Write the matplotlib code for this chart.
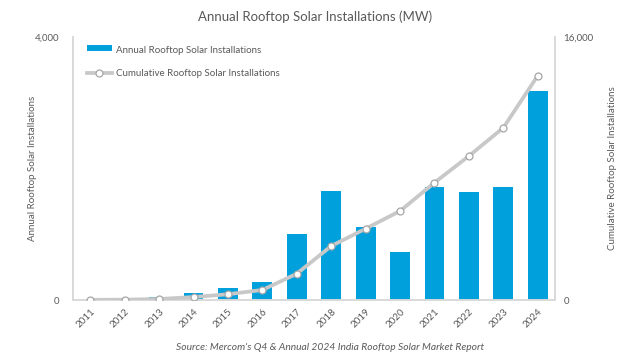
import matplotlib
matplotlib.use("Agg")
import matplotlib.pyplot as plt
import numpy as np

years = ["2011", "2012", "2013", "2014", "2015", "2016", "2017", "2018",
         "2019", "2020", "2021", "2022", "2023", "2024"]
annual = [5, 10, 45, 105, 180, 275, 1000, 1655, 1105, 725, 1714, 1647, 1714, 3180]
cumulative = [10, 20, 60, 180, 350, 610, 1600, 3285, 4340, 5415, 7140, 8760, 10480, 13650]

plt.rcParams['font.family'] = ['Lato', 'DejaVu Sans']

W, H = 629, 356
fig = plt.figure(figsize=(W / 100, H / 100), dpi=100)
ax = fig.add_axes([73 / W, 1 - 300 / H, (555 - 73) / W, (300 - 37) / H])
ax2 = ax.twinx()

x = np.arange(len(years))
bar_color = "#00A0DC"
line_color = "#C8C8C8"
axis_color = "#D9D9D9"
text_color = "#595959"

ax.bar(x, annual, width=0.58, color=bar_color, zorder=2,
       label="Annual Rooftop Solar Installations")
ax2.plot(x, cumulative, color=line_color, lw=2.7, marker="o", ms=5,
         mfc="white", mec="#A6A6A6", mew=0.9, zorder=3,
         label="Cumulative Rooftop Solar Installations")

ax.set_xlim(-0.5, len(years) - 0.5)
ax.set_ylim(0, 4000)
ax2.set_ylim(0, 16000)
ax.set_yticks([0, 4000])
ax.set_yticklabels(["0", "4,000"])
ax2.set_yticks([0, 16000])
ax2.set_yticklabels(["0", "16,000"])
ax.set_xticks(x)
ax.set_xticklabels(years, rotation=45, ha="right", rotation_mode="anchor")

for a in (ax, ax2):
    a.tick_params(length=0, colors=text_color, labelsize=7)
    a.spines["top"].set_visible(False)
    for s in ("left", "right", "bottom"):
        a.spines[s].set_color(axis_color)
        a.spines[s].set_linewidth(1.2)
ax.tick_params(axis="x", pad=5)
ax.tick_params(axis="y", pad=10)
ax2.tick_params(axis="y", pad=6)

ax.set_ylabel("Annual Rooftop Solar Installations", color=text_color, fontsize=7)
ax2.set_ylabel("Cumulative Rooftop Solar Installations", color=text_color, fontsize=7)
ax.yaxis.set_label_coords((37 - 73) / (555 - 73), 0.5)
ax2.yaxis.set_label_coords((608 - 73) / (555 - 73), 0.5)

fig.text(315 / W, 1 - 17 / H, "Annual Rooftop Solar Installations (MW)", ha="center", va="center",
         fontsize=9.5, color=text_color)
fig.text(330 / W, 1 - 347 / H, "Source: Mercom's Q4 & Annual 2024 India Rooftop Solar Market Report",
         ha="center", va="center", fontsize=7.4, style="italic", color=text_color)

h1, l1 = ax.get_legend_handles_labels()
h2, l2 = ax2.get_legend_handles_labels()
leg = ax2.legend(h1 + h2, l1 + l2, loc="upper left", bbox_to_anchor=(0.01, 1.0), frameon=False,
                 fontsize=7, labelcolor=text_color, handlelength=2.6, handletextpad=0.4,
                 labelspacing=1.5)
for h in leg.legend_handles[:1]:
    h.set_height(4)
    h.set_y(1.5)

fig.savefig("out.png", dpi=100)
